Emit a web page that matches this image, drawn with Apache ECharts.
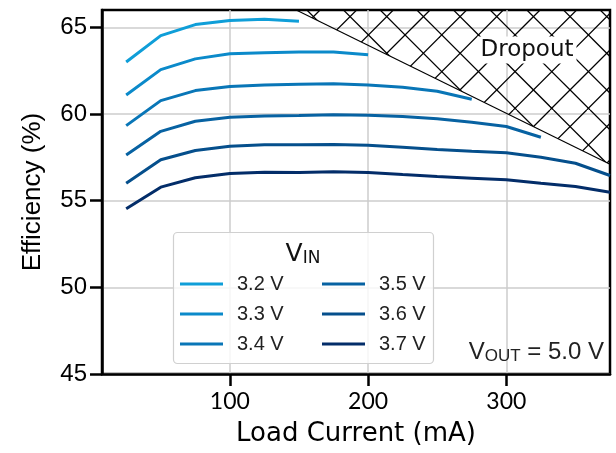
<!DOCTYPE html>
<html>
<head>
<meta charset="utf-8">
<script src="https://cdn.jsdelivr.net/npm/echarts@6/dist/echarts.min.js"></script>
<style>
html,body{margin:0;padding:0;background:#fff;}
#c{width:616px;height:453px;}
</style>
</head>
<body>
<div id="c"></div>
<script>
// ---- data ----
const loads = [25, 50, 75, 100, 125, 150, 175, 200, 225, 250, 275, 300, 325, 350, 375];
const seriesNames = ['3.2 V', '3.3 V', '3.4 V', '3.5 V', '3.6 V', '3.7 V'];
const eff32 = [63.0, 64.52, 65.16, 65.39, 65.47, 65.35];
const eff33 = [61.1, 62.56, 63.18, 63.47, 63.54, 63.57, 63.58, 63.42];
const eff34 = [59.33, 60.77, 61.35, 61.58, 61.68, 61.71, 61.74, 61.68, 61.54, 61.31, 60.85];
const eff35 = [57.64, 59.0, 59.58, 59.81, 59.89, 59.91, 59.95, 59.93, 59.85, 59.72, 59.52, 59.28, 58.66];
const eff36 = [56.0, 57.36, 57.89, 58.14, 58.22, 58.22, 58.24, 58.2, 58.08, 57.95, 57.85, 57.76, 57.51, 57.16, 56.45];
const eff37 = [54.53, 55.78, 56.32, 56.57, 56.64, 56.63, 56.67, 56.63, 56.51, 56.4, 56.3, 56.2, 56.0, 55.82, 55.49];
const dropoutX = [148, 375];
const dropoutY = [66, 57.1];
const xTicks = [100, 200, 300];
const yTicks = [45, 50, 55, 60, 65];

const colors = ['#0f9ed8', '#0b8aca', '#0976b7', '#0762a2', '#054f8c', '#032d69'];
const effAll = [eff32, eff33, eff34, eff35, eff36, eff37];

// hatch pattern (crosshatch)
function makeHatch() {
  const S = 110, P = S / 3;
  const cv = document.createElement('canvas');
  cv.width = S; cv.height = S;
  const ctx = cv.getContext('2d');
  ctx.strokeStyle = '#000';
  ctx.lineWidth = 1.25;
  const offA = 3.5, offB = 0;
  for (let k = -6; k <= 6; k++) {
    let c = k * P + offA;
    ctx.beginPath(); ctx.moveTo(c, 0); ctx.lineTo(c + S, S); ctx.stroke();
    c = k * P + offB;
    ctx.beginPath(); ctx.moveTo(c, 0); ctx.lineTo(c - S, S); ctx.stroke();
  }
  return cv;
}

const FONT_GEO = 'DejaVu Sans';
const FONT_TICKX = 'Lato';
const FONT_SANS = 'Liberation Sans';

const series = effAll.map((arr, i) => ({
  name: seriesNames[i],
  type: 'line',
  data: arr.map((v, j) => [loads[j], v]),
  showSymbol: false,
  symbol: 'none',
  lineStyle: { color: colors[i], width: 3 },
  itemStyle: { color: colors[i] },
  z: 2
}));

series.push({
  name: 'Dropout',
  type: 'line',
  data: dropoutX.map((x, i) => [x, dropoutY[i]]),
  symbol: 'none',
  lineStyle: { color: '#000', width: 1.2 },
  areaStyle: { origin: 'end', color: { image: makeHatch(), repeat: 'repeat' }, opacity: 1 },
  silent: true,
  z: 3
});

const chart = echarts.init(document.getElementById('c'));
chart.setOption({
  animation: false,
  grid: { left: 102, right: 6, top: 10, bottom: 79, show: true, borderColor: '#000', borderWidth: 2.5, backgroundColor: 'transparent' },
  xAxis: {
    type: 'value', min: 7.5, max: 375,
    name: 'Load Current (mA)', nameLocation: 'middle', nameGap: 47,
    nameTextStyle: { fontFamily: FONT_GEO, fontSize: 26, color: '#000' },
    axisLine: { lineStyle: { color: '#000', width: 2.5 } },
    axisTick: { show: true, length: 12, lineStyle: { color: '#000', width: 2.5 }, customValues: xTicks },
    axisLabel: { fontFamily: FONT_TICKX, fontSize: 23, color: '#000', margin: 16, customValues: xTicks },
    splitLine: { show: true, lineStyle: { color: '#cccccc', width: 1.5 } }
  },
  yAxis: {
    type: 'value', min: 45, max: 66,
    name: 'Efficiency (%)', nameLocation: 'middle', nameGap: 56,
    nameTextStyle: { fontFamily: FONT_SANS, fontSize: 26, color: '#000' },
    axisLine: { lineStyle: { color: '#000', width: 2.5 } },
    axisTick: { show: true, length: 12, lineStyle: { color: '#000', width: 2.5 }, customValues: yTicks },
    axisLabel: { fontFamily: FONT_SANS, fontSize: 24, color: '#000', margin: 15, customValues: yTicks },
    splitLine: { show: true, lineStyle: { color: '#cccccc', width: 1.5 } }
  },
  legend: [
    {
      data: seriesNames.slice(0, 3), orient: 'vertical', left: 180, top: 269, padding: 0, itemGap: 0,
      itemWidth: 43, itemHeight: 3, icon: 'rect',
      textStyle: { fontFamily: FONT_SANS, fontSize: 20, color: '#222', lineHeight: 30, padding: [0, 0, 0, 9] },
      z: 5
    },
    {
      data: seriesNames.slice(3), orient: 'vertical', left: 322, top: 269, padding: 0, itemGap: 0,
      itemWidth: 43, itemHeight: 3, icon: 'rect',
      textStyle: { fontFamily: FONT_SANS, fontSize: 20, color: '#222', lineHeight: 30, padding: [0, 0, 0, 9] },
      z: 5
    }
  ],
  graphic: [
    { type: 'rect', z: 3, shape: { x: 173.5, y: 232.5, width: 260, height: 131, r: 4 },
      style: { fill: 'rgba(255,255,255,0.8)', stroke: '#d0d0d0', lineWidth: 1.2 } },
    { type: 'text', z: 6, x: 303, y: 254,
      style: { text: '{a|V}{b|IN}', align: 'center', verticalAlign: 'middle',
        rich: { a: { fontFamily: FONT_GEO, fontSize: 25, fill: '#111' }, b: { fontFamily: FONT_GEO, fontSize: 17, fill: '#111', padding: [10, 0, 0, 0] } } } },
    { type: 'text', z: 6, x: 604, y: 352,
      style: { text: '{a|V}{b|OUT}{a| = 5.0 V}', align: 'right', verticalAlign: 'middle',
        rich: { a: { fontFamily: FONT_SANS, fontSize: 24, fill: '#222' }, b: { fontFamily: FONT_SANS, fontSize: 17, fill: '#222', padding: [9, 0, 0, 0] } } } },
    { type: 'text', z: 6, x: 527, y: 50,
      style: { text: 'Dropout', align: 'center', verticalAlign: 'middle', fontFamily: FONT_GEO, fontSize: 23, fill: '#111',
        backgroundColor: '#fff', padding: [2, 3, 2, 3] } }
  ],
  series: series
});
</script>
</body>
</html>
